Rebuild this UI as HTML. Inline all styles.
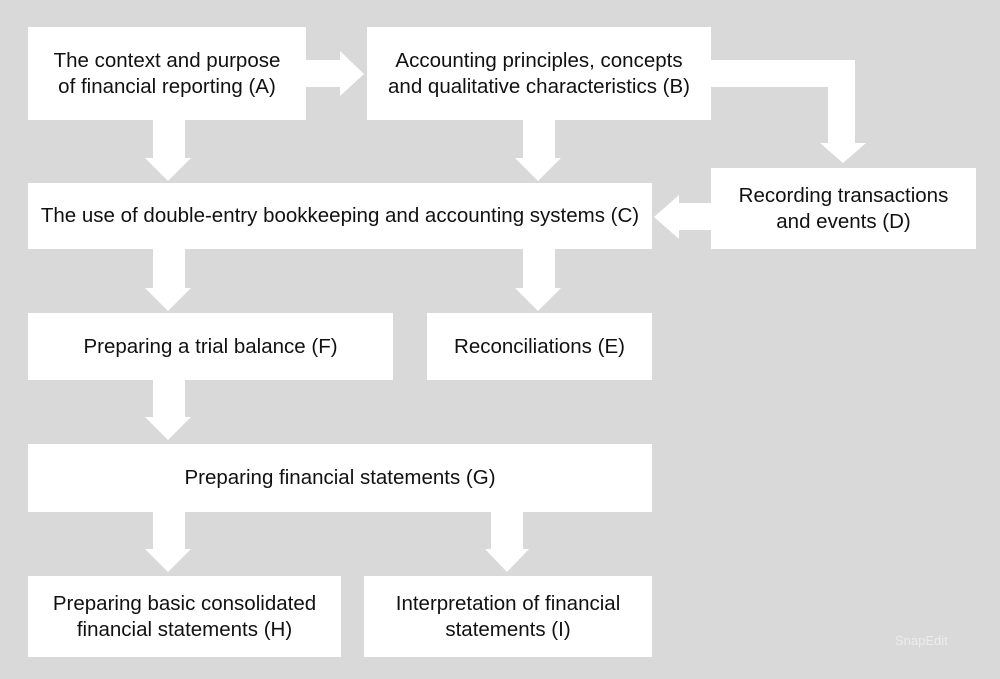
<!DOCTYPE html>
<html><head><meta charset="utf-8"><style>
body{margin:0;width:1000px;height:679px;background:#d9d9d9;position:relative;overflow:hidden;font-family:"Liberation Sans",sans-serif;}
.b{position:absolute;background:#fff;display:flex;align-items:center;justify-content:center;text-align:center;font-size:20.5px;line-height:26px;color:#111;letter-spacing:0}
svg{position:absolute;left:0;top:0}
</style></head><body>
<svg width="1000" height="679" fill="#fff">
<polygon points="306,60 340,60 340,51 364,74 340,96 340,87 306,87"/>
<polygon points="711,60 855,60 855,143 866,143 843,163 820,143 828,143 828,87 711,87"/>
<polygon points="711,203 679,203 679,195 654,217 679,239 679,230 711,230"/>
<polygon points="153,120 185,120 185,158 191,158 168,181 145,158 153,158"/>
<polygon points="523,120 555,120 555,158 561,158 538,181 515,158 523,158"/>
<polygon points="153,249 185,249 185,288 191,288 168,311 145,288 153,288"/>
<polygon points="523,249 555,249 555,288 561,288 538,311 515,288 523,288"/>
<polygon points="153,380 185,380 185,417 191,417 168,440 145,417 153,417"/>
<polygon points="153,512 185,512 185,549 191,549 168,572 145,549 153,549"/>
<polygon points="491,512 523,512 523,549 529,549 507,572 485,549 491,549"/>
</svg>
<div class="b" style="left:28px;top:27px;width:278px;height:93px">The context and purpose<br>of financial reporting (A)</div>
<div class="b" style="left:367px;top:27px;width:344px;height:93px">Accounting principles, concepts<br>and qualitative characteristics (B)</div>
<div class="b" style="left:711px;top:168px;width:265px;height:81px">Recording transactions<br>and events (D)</div>
<div class="b" style="left:28px;top:183px;width:624px;height:66px">The use of double-entry bookkeeping and accounting systems (C)</div>
<div class="b" style="left:28px;top:313px;width:365px;height:67px">Preparing a trial balance (F)</div>
<div class="b" style="left:427px;top:313px;width:225px;height:67px">Reconciliations (E)</div>
<div class="b" style="left:28px;top:444px;width:624px;height:68px">Preparing financial statements (G)</div>
<div class="b" style="left:28px;top:576px;width:313px;height:81px">Preparing basic consolidated<br>financial statements (H)</div>
<div class="b" style="left:364px;top:576px;width:288px;height:81px">Interpretation of financial<br>statements (I)</div>
<div style="position:absolute;left:895px;top:633px;font-size:13px;color:#ececec">SnapEdit</div>
</body></html>
